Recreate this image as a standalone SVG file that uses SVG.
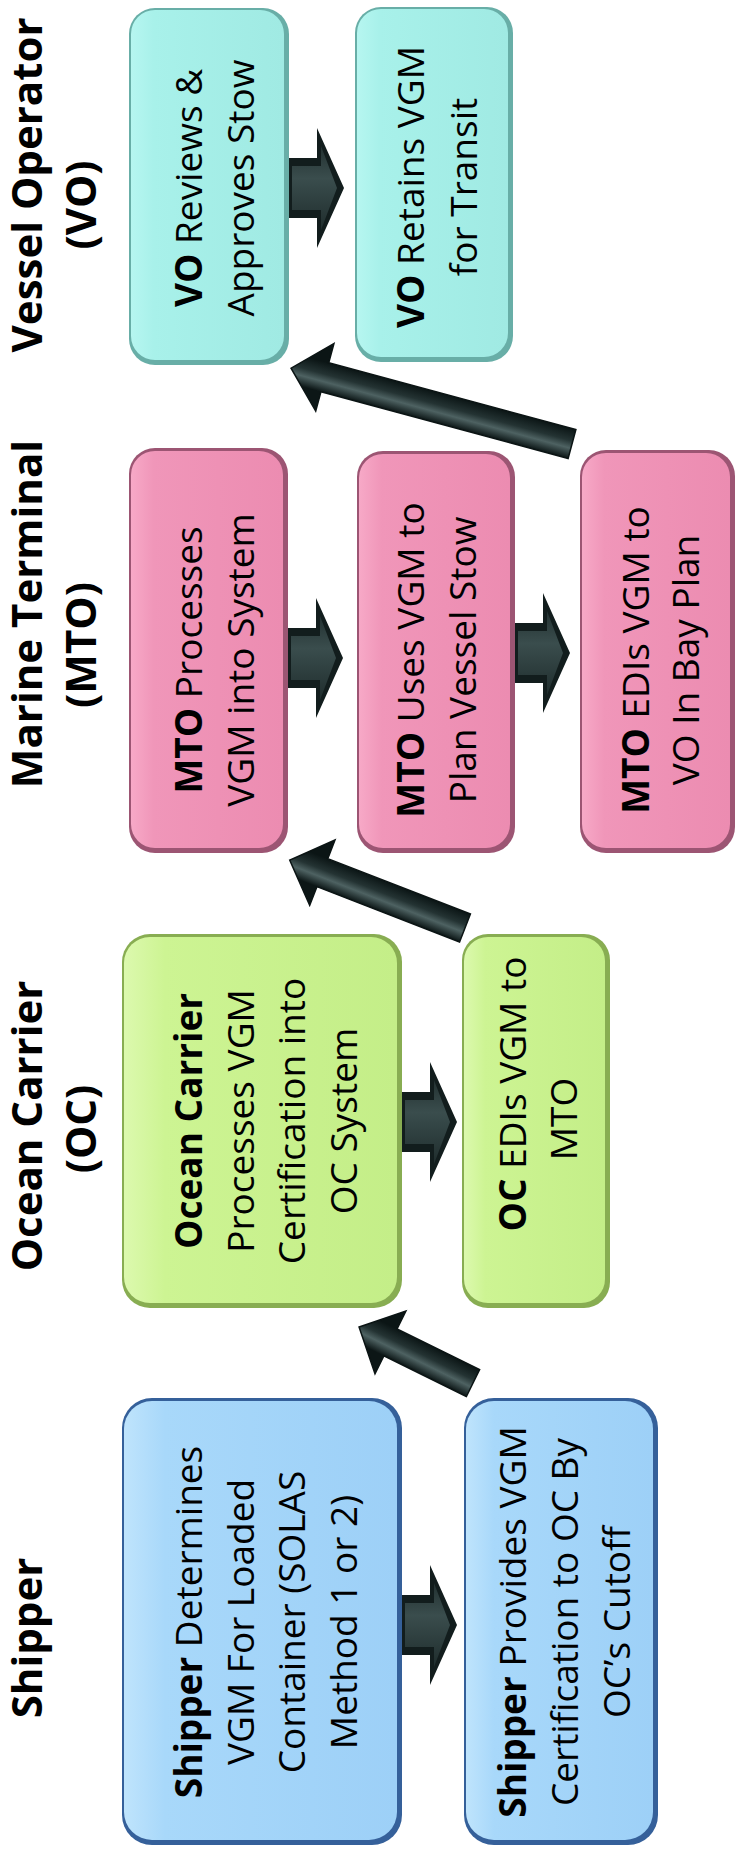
<svg xmlns="http://www.w3.org/2000/svg" width="737" height="1860" viewBox="0 0 737 1860">
<style>
text{font-family:"Open Sans","Liberation Sans",sans-serif;fill:#000;text-anchor:middle}
.lbl{font-size:42px;font-weight:700}
.t{font-size:37px}
.b{font-weight:700}
.vo .edge{fill:#68aea7}.vo .face{fill:url(#gVO)}
.mto .edge{fill:#9c5573}.mto .face{fill:url(#gMTO)}
.oc .edge{fill:#88ad52}.oc .face{fill:url(#gOC)}
.sh .edge{fill:#35609a}.sh .face{fill:url(#gSH)}
.blk{fill:#121d1d}
.blkin{fill:url(#gBlk)}
.dia{fill:url(#gDia);stroke:#0b1414;stroke-width:1.5}
</style>
<defs>
<linearGradient id="gVO" x1="0" y1="0" x2="1" y2="0"><stop offset="0" stop-color="#b6f6f0"/><stop offset="0.15" stop-color="#a8f1ea"/><stop offset="1" stop-color="#a0eae3"/></linearGradient>
<linearGradient id="gMTO" x1="0" y1="0" x2="1" y2="0"><stop offset="0" stop-color="#f7a9c7"/><stop offset="0.15" stop-color="#f096b9"/><stop offset="1" stop-color="#ec8cb1"/></linearGradient>
<linearGradient id="gOC" x1="0" y1="0" x2="1" y2="0"><stop offset="0" stop-color="#dcf9ae"/><stop offset="0.15" stop-color="#cdf493"/><stop offset="1" stop-color="#c4ee88"/></linearGradient>
<linearGradient id="gSH" x1="0" y1="0" x2="1" y2="0"><stop offset="0" stop-color="#bfe4fc"/><stop offset="0.15" stop-color="#a8d8fa"/><stop offset="1" stop-color="#9dd0f7"/></linearGradient>
<linearGradient id="gBlk" x1="0" y1="-60" x2="0" y2="60" gradientUnits="userSpaceOnUse"><stop offset="0" stop-color="#162222"/><stop offset="0.42" stop-color="#3a4d4d"/><stop offset="1" stop-color="#162222"/></linearGradient>
<linearGradient id="gDia" x1="0" y1="-15" x2="0" y2="15" gradientUnits="userSpaceOnUse"><stop offset="0" stop-color="#0c1616"/><stop offset="0.35" stop-color="#4e6262"/><stop offset="0.6" stop-color="#243333"/><stop offset="1" stop-color="#0b1515"/></linearGradient>
<g id="blockArrow"><path class="blk" d="M0,-30 H28 V-60 L55,0 L28,60 V30 H0 Z"/><path class="blkin" d="M3,-22 H32 V-42 L48,0 L32,42 V22 H3 Z"/></g>
</defs>

<g id="labels">
<g id="lbl-vo"><text class="lbl" transform="translate(42,185) rotate(-90)">Vessel Operator</text><text class="lbl" transform="translate(96,205) rotate(-90)">(VO)</text></g>
<g id="lbl-mto"><text class="lbl" transform="translate(42,614) rotate(-90)">Marine Terminal</text><text class="lbl" transform="translate(96,645) rotate(-90)">(MTO)</text></g>
<g id="lbl-oc"><text class="lbl" transform="translate(42,1126) rotate(-90)">Ocean Carrier</text><text class="lbl" transform="translate(96,1129) rotate(-90)">(OC)</text></g>
<g id="lbl-sh"><text class="lbl" transform="translate(42,1638) rotate(-90)">Shipper</text></g>
</g>

<g id="vo1" class="vo"><rect class="edge" x="129" y="8" width="160" height="357" rx="26"/><rect class="face" x="131" y="10" width="153" height="350" rx="24"/><text class="t" transform="translate(202,188) rotate(-90)"><tspan class="b">VO</tspan> Reviews &amp;</text><text class="t" transform="translate(254,188) rotate(-90)">Approves Stow</text></g>
<g id="vo2" class="vo"><rect class="edge" x="355" y="7" width="158" height="355" rx="26"/><rect class="face" x="357" y="9" width="151" height="348" rx="24"/><text class="t" transform="translate(424,187) rotate(-90)"><tspan class="b">VO</tspan> Retains VGM</text><text class="t" transform="translate(477,187) rotate(-90)">for Transit</text></g>

<g id="mto1" class="mto"><rect class="edge" x="129" y="448" width="159" height="405" rx="26"/><rect class="face" x="131" y="451" width="152" height="397" rx="24"/><text class="t" transform="translate(202,660) rotate(-90)"><tspan class="b">MTO</tspan> Processes</text><text class="t" transform="translate(254,660) rotate(-90)">VGM into System</text></g>
<g id="mto2" class="mto"><rect class="edge" x="357" y="451" width="158" height="402" rx="26"/><rect class="face" x="359" y="454" width="151" height="394" rx="24"/><text class="t" transform="translate(424,660) rotate(-90)"><tspan class="b">MTO</tspan> Uses VGM to</text><text class="t" transform="translate(476,660) rotate(-90)">Plan Vessel Stow</text></g>
<g id="mto3" class="mto"><rect class="edge" x="580" y="450" width="155" height="403" rx="26"/><rect class="face" x="582" y="453" width="148" height="395" rx="24"/><text class="t" transform="translate(649,660) rotate(-90)"><tspan class="b">MTO</tspan> EDIs VGM to</text><text class="t" transform="translate(699,660) rotate(-90)">VO In Bay Plan</text></g>

<g id="oc1" class="oc"><rect class="edge" x="122" y="934" width="280" height="374" rx="28"/><rect class="face" x="124" y="937" width="273" height="366" rx="26"/><text class="t b" transform="translate(202,1121) rotate(-90)">Ocean Carrier</text><text class="t" transform="translate(254,1121) rotate(-90)">Processes VGM</text><text class="t" transform="translate(305,1121) rotate(-90)">Certification into</text><text class="t" transform="translate(357,1121) rotate(-90)">OC System</text></g>
<g id="oc2" class="oc"><rect class="edge" x="462" y="934" width="148" height="374" rx="26"/><rect class="face" x="464" y="937" width="141" height="366" rx="24"/><text class="t" transform="translate(526,1094) rotate(-90)"><tspan class="b">OC</tspan> EDIs VGM to</text><text class="t" transform="translate(577,1119) rotate(-90)">MTO</text></g>

<g id="sh1" class="sh"><rect class="edge" x="122" y="1398" width="280" height="447" rx="30"/><rect class="face" x="124" y="1401" width="273" height="439" rx="28"/><text class="t" transform="translate(202,1622) rotate(-90)"><tspan class="b">Shipper</tspan> Determines</text><text class="t" transform="translate(254,1622) rotate(-90)">VGM For Loaded</text><text class="t" transform="translate(305,1622) rotate(-90)">Container (SOLAS</text><text class="t" transform="translate(357,1622) rotate(-90)">Method 1 or 2)</text></g>
<g id="sh2" class="sh"><rect class="edge" x="464" y="1398" width="194" height="447" rx="30"/><rect class="face" x="466" y="1401" width="187" height="439" rx="28"/><text class="t" transform="translate(526,1622) rotate(-90)"><tspan class="b">Shipper</tspan> Provides VGM</text><text class="t" transform="translate(578,1622) rotate(-90)">Certification to OC By</text><text class="t" transform="translate(630,1622) rotate(-90)">OC’s Cutoff</text></g>

<g id="connectors">
<use href="#blockArrow" transform="translate(289,188)"/>
<use href="#blockArrow" transform="translate(288,658)"/>
<use href="#blockArrow" transform="translate(515,653)"/>
<use href="#blockArrow" transform="translate(402,1122)"/>
<use href="#blockArrow" transform="translate(402,1625)"/>
<path class="dia" transform="translate(473,1383) rotate(206.2)" d="M0,-15 H92 V-35 L127,0 L92,35 V15 H0 Z"/>
<path class="dia" transform="translate(465,928) rotate(201.2)" d="M0,-15 H153 V-35 L188,0 L153,35 V15 H0 Z"/>
<path class="dia" transform="translate(572,444) rotate(195.1)" d="M0,-15 H256 V-35 L291,0 L256,35 V15 H0 Z"/>
</g>
</svg>
